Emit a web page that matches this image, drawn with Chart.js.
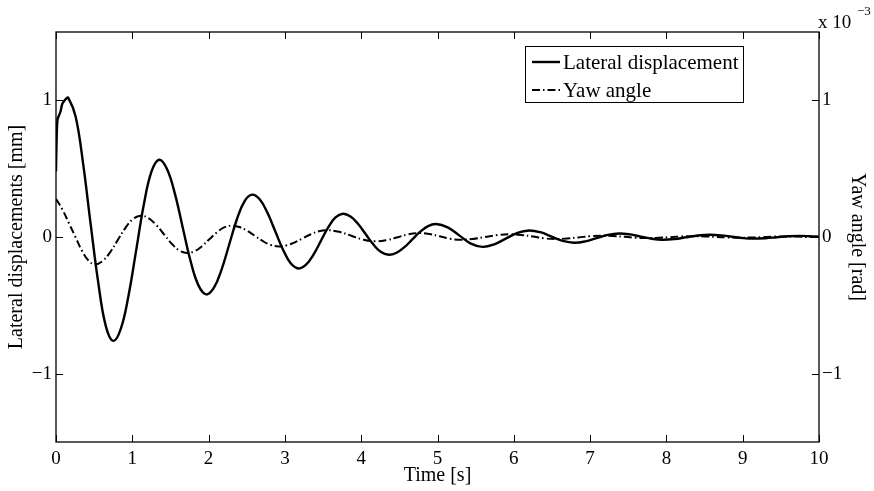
<!DOCTYPE html>
<html>
<head>
<meta charset="utf-8">
<script src="https://cdn.jsdelivr.net/npm/chart.js@4/dist/chart.umd.min.js"></script>
<style>
  html, body { margin: 0; padding: 0; background: #fff; }
  canvas { display: block; }
</style>
</head>
<body>
<canvas id="c" width="874" height="491"></canvas>
<script>
// Time samples [s] and lateral displacement [mm]
const timeLateral = [
  0.00,0.01,0.02,0.04,0.06,0.08,0.10,0.13,0.16,
  0.258,0.357,0.455,0.553,0.652,0.75,
  0.85,0.95,1.05,1.15,1.25,1.35,
  1.453,1.557,1.66,1.763,1.867,1.97,
  2.07,2.17,2.27,2.37,2.47,2.57,
  2.672,2.773,2.875,2.977,3.078,3.18,
  3.277,3.373,3.47,3.567,3.663,3.76,
  3.86,3.96,4.06,4.16,4.26,4.36,
  4.463,4.567,4.67,4.773,4.877,4.98,
  5.133,5.285,5.438,5.59,
  5.743,5.895,6.048,6.20,
  6.348,6.495,6.643,6.79,
  6.938,7.085,7.233,7.38,
  7.523,7.665,7.808,7.95,
  8.105,8.26,8.415,8.57,
  8.715,8.86,9.005,9.15,
  9.30,9.45,9.60,9.75,
  9.875,10.0
];
const lateralDisp = [
  0.48,0.75,0.86,0.89,0.92,0.97,0.99,1.01,1.02,
  0.88,0.53,0.09,-0.33,-0.65,-0.76,
  -0.67,-0.43,-0.10,0.234,0.476,0.565,
  0.499,0.319,0.072,-0.174,-0.354,-0.42,
  -0.371,-0.238,-0.055,0.128,0.261,0.31,
  0.274,0.175,0.04,-0.095,-0.194,-0.23,
  -0.203,-0.13,-0.03,0.07,0.143,0.17,
  0.15,0.095,0.02,-0.055,-0.11,-0.13,
  -0.115,-0.074,-0.018,0.039,0.08,0.095,
  0.071,0.012,-0.048,-0.072,
  -0.054,-0.012,0.030,0.048,
  0.035,0.003,-0.029,-0.042,
  -0.032,-0.008,0.016,0.026,
  0.019,0.003,-0.013,-0.020,
  -0.015,-0.002,0.011,0.016,
  0.012,0.002,-0.008,-0.012,
  -0.009,-0.002,0.005,0.008,
  0.006,0.002
];

// Time samples [s] and yaw angle [x 10^-3 rad]
const timeYaw = [
  0.00,0.085,0.17,0.255,0.34,0.425,0.51,
  0.61,0.71,0.81,0.91,1.01,1.11,
  1.212,1.313,1.415,1.517,1.618,1.72,
  1.817,1.913,2.01,2.107,2.203,2.30,
  2.403,2.507,2.61,2.713,2.817,2.92,
  3.025,3.13,3.235,3.34,3.445,3.55,
  3.71,3.87,4.03,4.19,
  4.333,4.475,4.618,4.76,
  4.895,5.03,5.165,5.30,
  5.463,5.625,5.788,5.95,
  6.10,6.25,6.40,6.55,
  6.70,6.85,7.00,7.15,
  7.30,7.45,7.60,7.75,
  7.90,8.05,8.20,8.35,
  8.50,8.65,8.80,8.95,
  9.10,9.25,9.40,9.55,
  9.70,9.85,10.0
];
const yawAngle = [
  0.28,0.20,0.10,0.00,-0.10,-0.172,-0.20,
  -0.176,-0.111,-0.022,0.067,0.132,0.156,
  0.138,0.088,0.02,-0.049,-0.099,-0.117,
  -0.104,-0.067,-0.017,0.033,0.070,0.083,
  0.073,0.045,0.007,-0.031,-0.059,-0.069,
  -0.061,-0.039,-0.01,0.020,0.042,0.05,
  0.038,0.009,-0.020,-0.032,
  -0.023,-0.002,0.020,0.029,
  0.022,0.005,-0.013,-0.020,
  -0.014,0.000,0.014,0.020,
  0.015,0.003,-0.010,-0.015,
  -0.011,-0.003,0.006,0.010,
  0.007,0.001,-0.005,-0.008,
  -0.006,-0.001,0.004,0.006,
  0.004,0.001,-0.003,-0.005,
  -0.004,-0.001,0.003,0.004,
  0.003,0.000,-0.001
];

// Axis ticks
const xTicks = [0,1,2,3,4,5,6,7,8,9,10];
const yTicks = [-1,0,1];
const yawTicks = [-1,0,1];

const SERIF = '"Liberation Serif", "Times New Roman", serif';
const fmt = v => (v < 0 ? '\u2212' + Math.abs(v) : String(v));

// Box frame, inward tick marks, legend and exponent label
const decorations = {
  id: 'decorations',
  beforeDraw(chart) {
    const ctx = chart.ctx;
    ctx.save();
    ctx.fillStyle = '#fff';
    ctx.fillRect(0, 0, chart.width, chart.height);
    ctx.restore();
  },
  afterDraw(chart) {
    const ctx = chart.ctx;
    const a = chart.chartArea;
    const sx = chart.scales.x, sy = chart.scales.y, sy1 = chart.scales.y1;
    const T = 7;
    ctx.save();
    ctx.strokeStyle = '#000';
    ctx.lineWidth = 1.3;
    ctx.strokeRect(a.left, a.top, a.right - a.left, a.bottom - a.top);
    ctx.lineWidth = 1;
    ctx.beginPath();
    xTicks.forEach(v => {
      const px = Math.round(sx.getPixelForValue(v)) + 0.5;
      ctx.moveTo(px, a.bottom); ctx.lineTo(px, a.bottom - T);
      ctx.moveTo(px, a.top); ctx.lineTo(px, a.top + T);
    });
    yTicks.forEach(v => {
      const py = Math.round(sy.getPixelForValue(v)) + 0.5;
      ctx.moveTo(a.left, py); ctx.lineTo(a.left + T, py);
    });
    yawTicks.forEach(v => {
      const py = Math.round(sy1.getPixelForValue(v)) + 0.5;
      ctx.moveTo(a.right, py); ctx.lineTo(a.right - T, py);
    });
    ctx.stroke();

    // legend
    const lx = 525, ly = 46, lw = 218, lh = 56;
    ctx.fillStyle = '#fff';
    ctx.fillRect(lx, ly, lw, lh);
    ctx.lineWidth = 1;
    ctx.strokeRect(lx + 0.5, ly + 0.5, lw, lh);
    const ds = chart.data.datasets;
    const rows = [ly + 16, ly + 44];
    ds.forEach((d, i) => {
      ctx.save();
      ctx.strokeStyle = d.borderColor;
      ctx.lineWidth = d.borderWidth;
      ctx.setLineDash(d.borderDash || []);
      ctx.beginPath();
      ctx.moveTo(lx + 7, rows[i]);
      ctx.lineTo(lx + 35, rows[i]);
      ctx.stroke();
      ctx.restore();
      ctx.fillStyle = '#000';
      ctx.font = '21px ' + SERIF;
      ctx.textBaseline = 'middle';
      ctx.textAlign = 'left';
      ctx.fillText(d.label, lx + 38, rows[i] + 1);
    });

    // exponent of the yaw axis
    ctx.fillStyle = '#000';
    ctx.textBaseline = 'alphabetic';
    ctx.textAlign = 'left';
    ctx.font = '19px ' + SERIF;
    ctx.fillText('x 10', a.right - 1, 28);
    ctx.font = '13px ' + SERIF;
    ctx.fillText('\u22123', a.right + 38, 15);
    ctx.restore();
  }
};

const tickFont = { family: SERIF, size: 19 };
const titleFont = { family: SERIF, size: 20 };

new Chart(document.getElementById('c'), {
  type: 'line',
  data: {
    datasets: [
      {
        label: 'Lateral displacement',
        data: timeLateral.map((t, i) => ({ x: t, y: lateralDisp[i] })),
        yAxisID: 'y',
        borderColor: '#000',
        borderWidth: 2.4,
        pointRadius: 0,
        tension: 0.4,
        fill: false
      },
      {
        label: 'Yaw angle',
        data: timeYaw.map((t, i) => ({ x: t, y: yawAngle[i] })),
        yAxisID: 'y1',
        borderColor: '#000',
        borderWidth: 2,
        borderDash: [8, 3, 1.5, 3],
        pointRadius: 0,
        tension: 0.4,
        fill: false
      }
    ]
  },
  options: {
    responsive: false,
    animation: false,
    events: [],
    layout: { padding: { top: 32, left: 0, right: 0, bottom: 0 } },
    plugins: { legend: { display: false }, tooltip: { enabled: false } },
    scales: {
      x: {
        type: 'linear', min: 0, max: 10,
        afterBuildTicks: s => { s.ticks = xTicks.map(v => ({ value: v })); },
        afterFit: s => { s.height = 491 - 442; },
        grid: { display: false, drawTicks: false },
        border: { display: false },
        ticks: { color: '#000', font: tickFont, padding: 6, maxRotation: 0, callback: fmt },
        title: { display: true, text: 'Time [s]', color: '#000', font: titleFont, padding: { top: 0, bottom: 3 } }
      },
      y: {
        type: 'linear', position: 'left', min: -1.5, max: 1.5,
        afterBuildTicks: s => { s.ticks = yTicks.map(v => ({ value: v })); },
        afterFit: s => { s.width = 56; },
        grid: { display: false, drawTicks: false },
        border: { display: false },
        ticks: { color: '#000', font: tickFont, padding: 4, callback: fmt },
        title: { display: true, text: 'Lateral displacements [mm]', color: '#000', font: titleFont, padding: { top: 5, bottom: 0 } }
      },
      y1: {
        type: 'linear', position: 'right', min: -1.5, max: 1.5,
        afterBuildTicks: s => { s.ticks = yawTicks.map(v => ({ value: v })); },
        afterFit: s => { s.width = 874 - 819; },
        grid: { display: false, drawTicks: false },
        border: { display: false },
        ticks: { color: '#000', font: tickFont, padding: 3, callback: fmt },
        title: { display: true, text: 'Yaw angle [rad]', color: '#000', font: titleFont, padding: { top: 5, bottom: 0 } }
      }
    }
  },
  plugins: [decorations]
});
</script>
</body>
</html>
